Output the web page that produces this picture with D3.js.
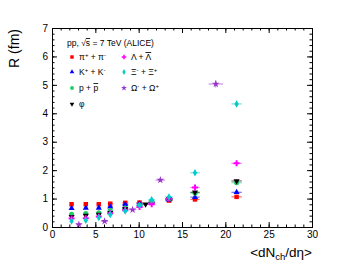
<!DOCTYPE html>
<html lang="en">
<head>
    <meta charset="UTF-8">
    <title>R vs dNch/deta</title>
    <script src="https://d3js.org/d3.v7.min.js"></script>
    <style>
        body { margin: 0; background: #ffffff; }
        svg { display: block; font-family: "Liberation Sans", Arial, sans-serif; }
        .axis path, .axis line { stroke: #000; stroke-width: 1; }
        .axis text { font-size: 10px; fill: #000; }
    </style>
</head>
<body>
    <svg id="chart" width="347" height="267"></svg>
    <script>
        // multiplicity classes (pp 7 TeV) and their x uncertainty
        const xClasses = [2.26, 3.90, 5.40, 6.72, 8.45, 10.1, 11.5, 13.5, 16.5, 21.3];
        const xErr = [0.12, 0.2, 0.25, 0.3, 0.35, 0.38, 0.4, 0.44, 0.54, 0.6];

        // radii in fm
        const pion = [0.80, 0.80, 0.80, 0.82, 0.85, 0.86, 0.86, 0.93, 0.97, 1.06];
        const kaon = [0.66, 0.67, 0.67, 0.71, 0.79, 0.82, 0.87, 0.96, 1.05, 1.22];
        const proton = [0.45, 0.47, 0.50, 0.58, 0.67, 0.76, 0.91, 0.99, 1.19, 1.56];
        const lambda = [0.30, 0.31, 0.37, 0.48, 0.60, 0.70, 0.80, 1.00, 1.39, 2.24];
        const xi = [0.21, 0.24, 0.33, 0.44, 0.56, 0.76, 0.96, 1.06, 1.91, 4.33];

        const phiX = [2.26, 3.90, 5.40, 6.72, 8.45, 10.8, 13.5, 16.5, 21.3];
        const phiXErr = [0.12, 0.2, 0.25, 0.3, 0.35, 0.38, 0.44, 0.54, 0.6];
        const phi = [0.36, 0.40, 0.44, 0.50, 0.64, 0.80, 0.99, 1.22, 1.62];

        const omegaX = [3.1, 6.07, 9.3, 12.5, 18.9];
        const omegaXErr = [0.33, 0.4, 0.42, 0.54, 0.83];
        const omega = [0.09, 0.20, 0.61, 1.65, 5.03];

        const svg = d3.select("#chart");
        const mLeft = 52, mRight = 312, mTop = 28, mBottom = 227;

        const x = d3.scaleLinear().domain([0, 30]).range([mLeft, mRight]);
        const y = d3.scaleLinear().domain([0, 7]).range([mBottom, mTop]);

        // frame with inward ticks on all four sides (ROOT style)
        function drawAxes() {
            svg.append("g").attr("class", "axis")
                .attr("transform", `translate(0,${mBottom})`)
                .call(d3.axisBottom(x).tickValues(d3.range(0, 31, 5)).tickSize(-5).tickPadding(4).tickFormat(d3.format("d")));
            svg.append("g").attr("class", "axis")
                .attr("transform", `translate(0,${mBottom})`)
                .call(d3.axisBottom(x).tickValues(d3.range(0, 31, 1)).tickSize(-2.5).tickFormat(""));
            svg.append("g").attr("class", "axis")
                .attr("transform", `translate(0,${mTop})`)
                .call(d3.axisTop(x).tickValues(d3.range(0, 31, 5)).tickSize(-5).tickFormat(""));
            svg.append("g").attr("class", "axis")
                .attr("transform", `translate(0,${mTop})`)
                .call(d3.axisTop(x).tickValues(d3.range(0, 31, 1)).tickSize(-2.5).tickFormat(""));

            svg.append("g").attr("class", "axis")
                .attr("transform", `translate(${mLeft},0)`)
                .call(d3.axisLeft(y).tickValues(d3.range(0, 8, 1)).tickSize(-5).tickPadding(4).tickFormat(d3.format("d")));
            svg.append("g").attr("class", "axis")
                .attr("transform", `translate(${mLeft},0)`)
                .call(d3.axisLeft(y).tickValues(d3.range(0, 7.01, 0.2)).tickSize(-2.5).tickFormat(""));
            svg.append("g").attr("class", "axis")
                .attr("transform", `translate(${mRight},0)`)
                .call(d3.axisRight(y).tickValues(d3.range(0, 8, 1)).tickSize(-5).tickFormat(""));
            svg.append("g").attr("class", "axis")
                .attr("transform", `translate(${mRight},0)`)
                .call(d3.axisRight(y).tickValues(d3.range(0, 7.01, 0.2)).tickSize(-2.5).tickFormat(""));
        }
        drawAxes();

        // axis titles
        svg.append("text")
            .attr("transform", "translate(19,29) rotate(-90)")
            .attr("text-anchor", "end")
            .style("font-size", "14px")
            .text("R (fm)");

        const xt = svg.append("text")
            .attr("x", mRight).attr("y", 257)
            .attr("text-anchor", "end")
            .style("font-size", "13.5px");
        xt.append("tspan").text("<dN");
        xt.append("tspan").attr("dy", 3).style("font-size", "9.5px").text("ch");
        xt.append("tspan").attr("dy", -3).text("/d\u03b7>");

        const series = [
            { name: "pion", xs: xClasses, ex: xErr, ys: pion, color: "#ff0000", sym: d3.symbolSquare, size: 20 },
            { name: "kaon", xs: xClasses, ex: xErr, ys: kaon, color: "#0000ff", sym: d3.symbolTriangle, size: 16 },
            { name: "proton", xs: xClasses, ex: xErr, ys: proton, color: "#22cc66", sym: d3.symbolCircle, size: 20 },
            { name: "phi", xs: phiX, ex: phiXErr, ys: phi, color: "#000000", sym: d3.symbolTriangle, size: 16, flip: true },
            { name: "lambda", xs: xClasses, ex: xErr, ys: lambda, color: "#ff00ff", sym: d3.symbolCross, size: 20 },
            { name: "xi", xs: xClasses, ex: xErr, ys: xi, color: "#00cccc", sym: d3.symbolDiamond, size: 16 },
            { name: "omega", xs: omegaX, ex: omegaXErr, ys: omega, color: "#9933cc", sym: d3.symbolStar, size: 18 }
        ];

        const pts = svg.append("g");
        series.forEach(s => {
            const g = pts.append("g");
            s.ys.forEach((v, i) => {
                const cx = x(s.xs[i]), cy = y(v);
                const ey = Math.max(0.03, v * 0.025);
                g.append("line")
                    .attr("x1", x(s.xs[i] - s.ex[i])).attr("x2", x(s.xs[i] + s.ex[i]))
                    .attr("y1", cy).attr("y2", cy)
                    .attr("stroke", s.color).attr("stroke-opacity", 0.55).attr("stroke-width", 1.2);
                g.append("line")
                    .attr("x1", cx).attr("x2", cx)
                    .attr("y1", y(v - ey)).attr("y2", y(v + ey))
                    .attr("stroke", s.color).attr("stroke-opacity", 0.7).attr("stroke-width", 1);
                g.append("path")
                    .attr("d", d3.symbol(s.sym, s.size)())
                    .attr("transform", `translate(${cx},${cy})` + (s.flip ? " rotate(180)" : ""))
                    .attr("fill", s.color);
            });
        });

        // legend
        const legend = svg.append("g").style("font-size", "8.5px");
        const head = legend.append("text").attr("x", 67).attr("y", 46);
        head.append("tspan").text("pp, \u221a");
        head.append("tspan").style("text-decoration", "overline").text("s");
        head.append("tspan").text(" = 7 TeV (ALICE)");

        const entries = [
            { s: 0, col: 0, row: 0, parts: [["\u03c0"], ["+", "sup"], [" + \u03c0"], ["-", "sup"]] },
            { s: 1, col: 0, row: 1, parts: [["K"], ["+", "sup"], [" + K"], ["-", "sup"]] },
            { s: 2, col: 0, row: 2, parts: [["p + "], ["p", "bar"]] },
            { s: 3, col: 0, row: 3, parts: [["\u03c6"]] },
            { s: 4, col: 1, row: 0, parts: [["\u039b + "], ["\u039b", "bar"]] },
            { s: 5, col: 1, row: 1, parts: [["\u039e"], ["-", "sup"], [" + \u039e"], ["+", "sup"]] },
            { s: 6, col: 1, row: 2, parts: [["\u03a9"], ["-", "sup"], [" + \u03a9"], ["+", "sup"]] }
        ];
        const colX = [72, 124], rowY = [57, 72, 88, 104];
        entries.forEach(e => {
            const s = series[e.s];
            const mx = colX[e.col], my = rowY[e.row];
            legend.append("path")
                .attr("d", d3.symbol(s.sym, s.size * 0.6)())
                .attr("transform", `translate(${mx},${my})` + (s.flip ? " rotate(180)" : ""))
                .attr("fill", s.color);
            const t = legend.append("text").attr("x", mx + 7).attr("y", my + 3);
            let up = false;
            e.parts.forEach(p => {
                const sp = t.append("tspan").text(p[0]);
                if (p[1] === "sup") {
                    sp.attr("dy", -3).style("font-size", "6px");
                    up = true;
                } else {
                    if (up) { sp.attr("dy", 3); up = false; }
                    if (p[1] === "bar") sp.style("text-decoration", "overline");
                }
            });
        });
    </script>
</body>
</html>
